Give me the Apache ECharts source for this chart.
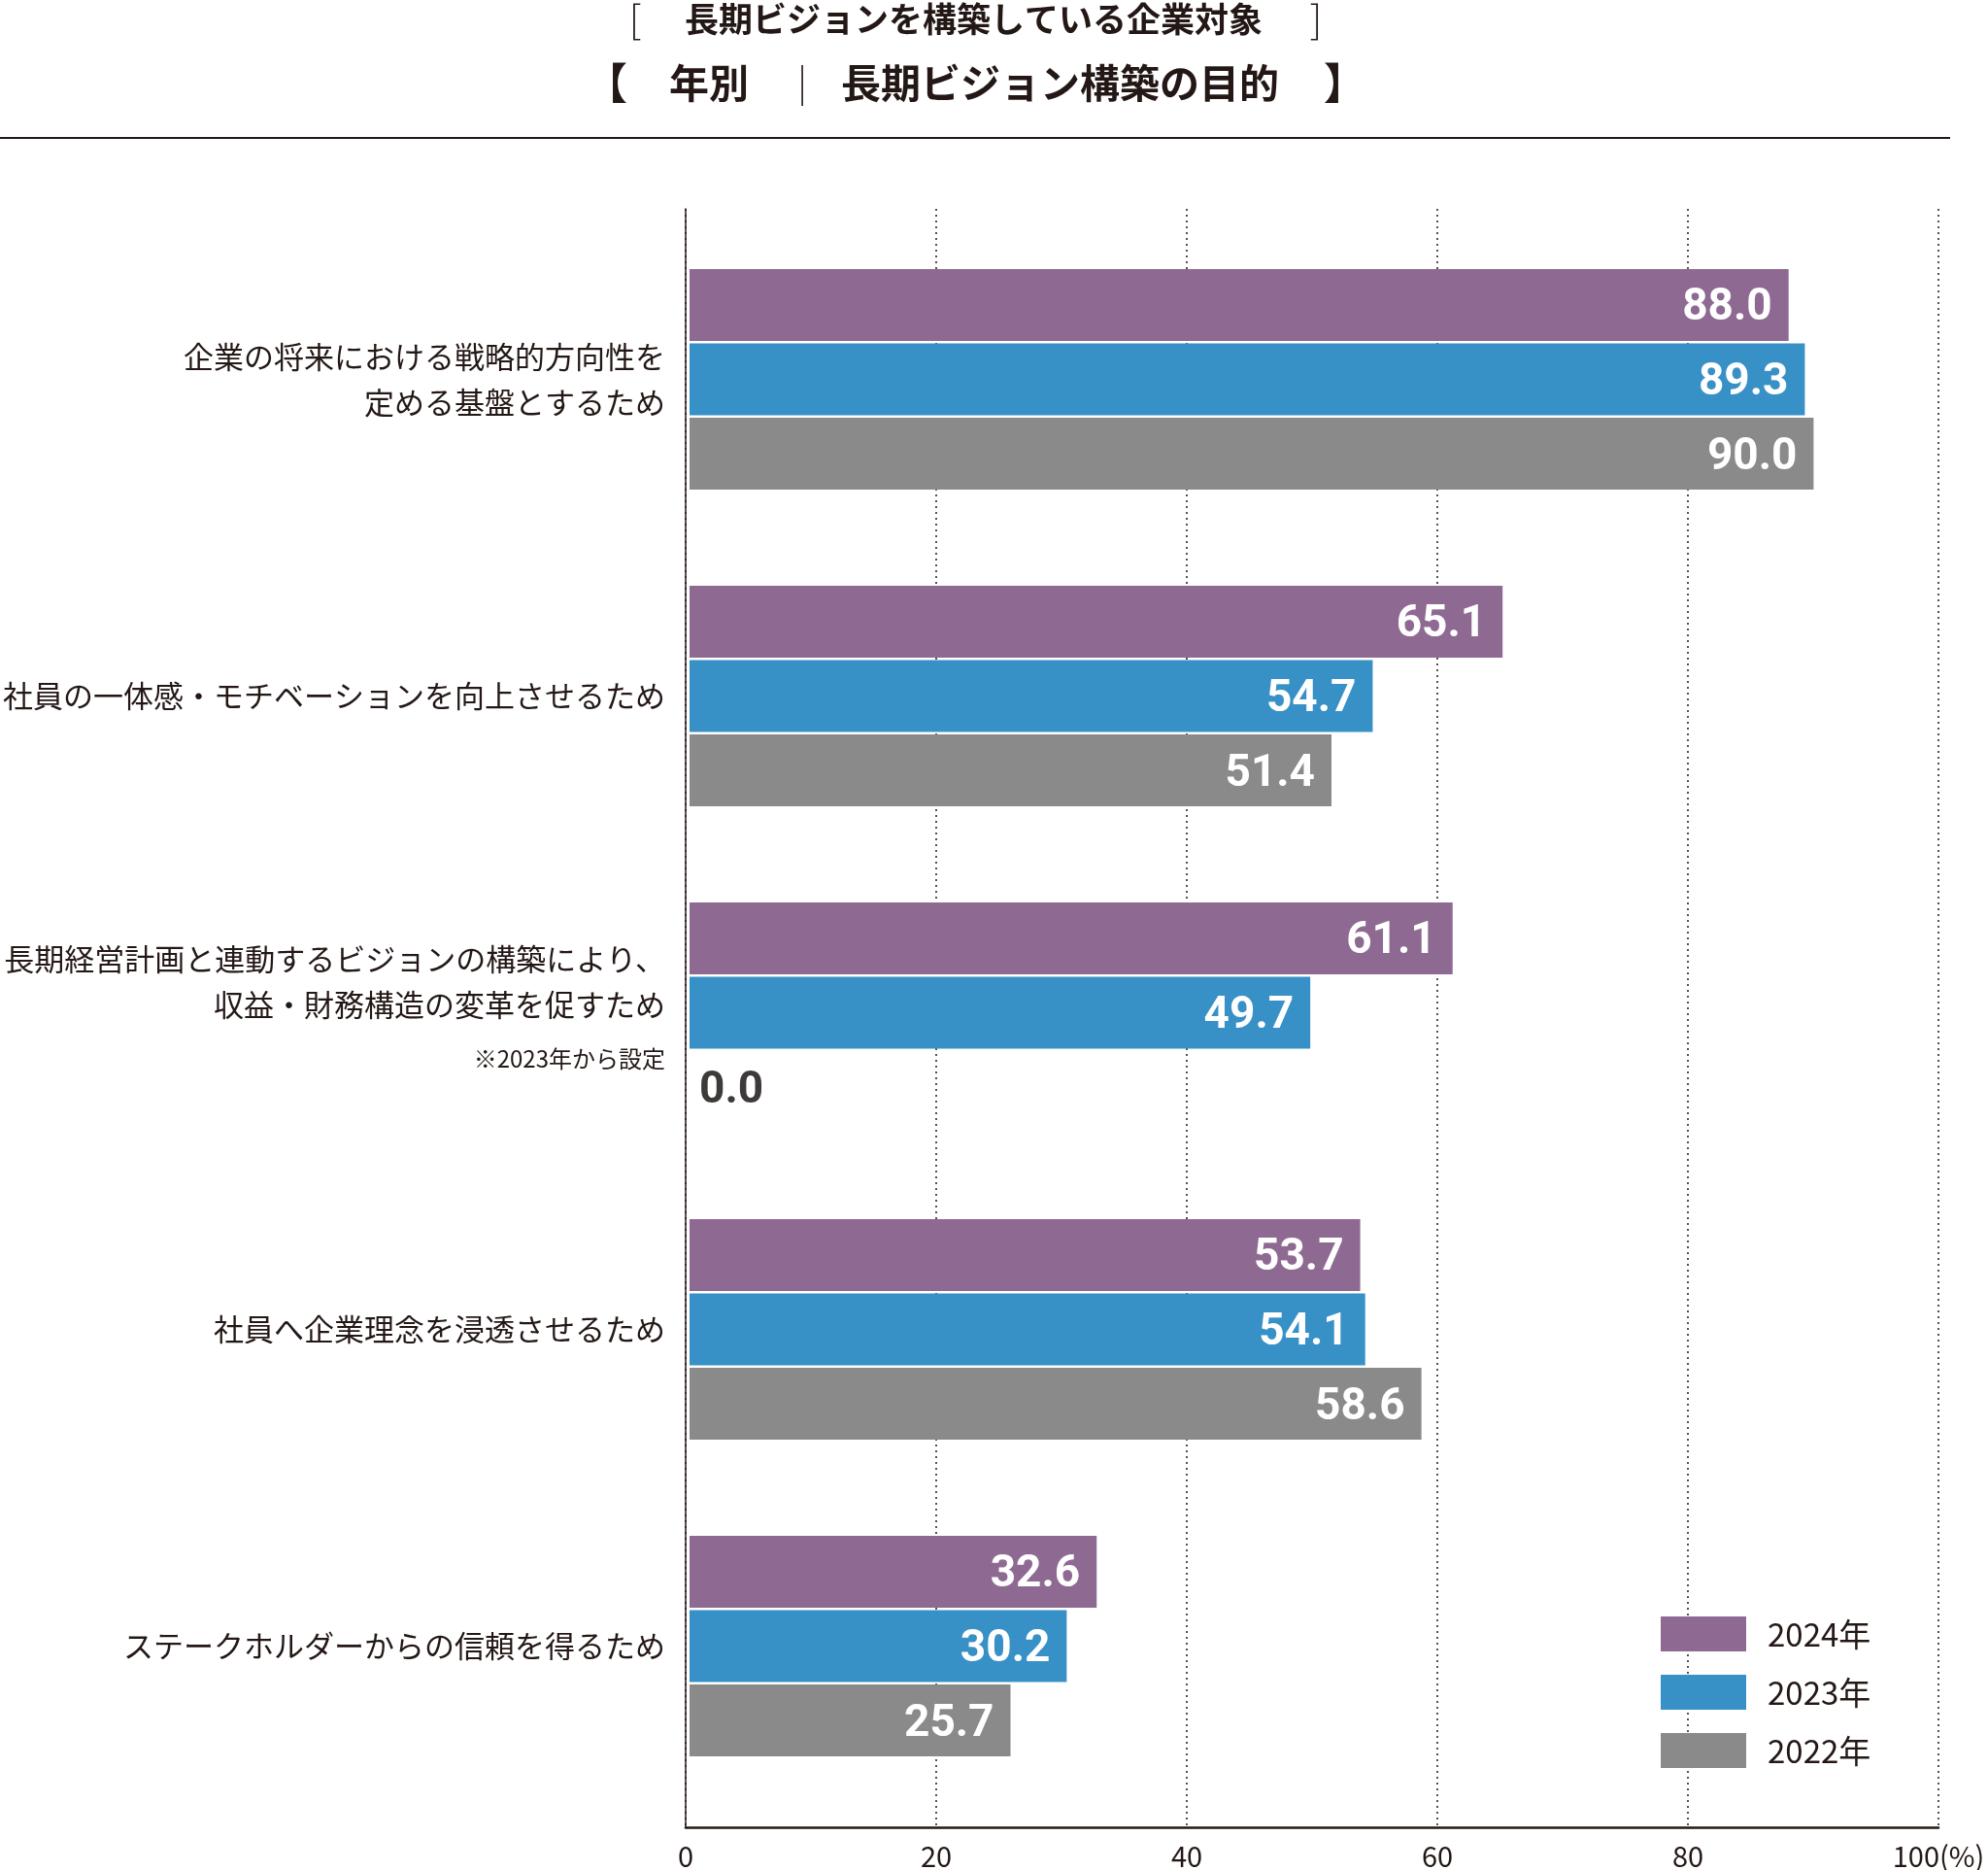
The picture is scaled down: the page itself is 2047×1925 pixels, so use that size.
<!DOCTYPE html>
<html>
<head>
<meta charset="utf-8">
<script src="https://cdn.jsdelivr.net/npm/echarts@6/dist/echarts.min.js"></script>
<style>
html,body{margin:0;padding:0;background:#fff;}
#main{width:2047px;height:1925px;}
</style>
</head>
<body>
<div id="main"></div>
<script>
// ---- data ----
const categories = [
  '企業の将来における戦略的方向性を\n定める基盤とするため',
  '社員の一体感・モチベーションを向上させるため',
  '長期経営計画と連動するビジョンの構築により、\n収益・財務構造の変革を促すため',
  '社員へ企業理念を浸透させるため',
  'ステークホルダーからの信頼を得るため'
];
const categoryNotes = ['', '', '※2023年から設定', '', ''];
const seriesNames = ['2024年', '2023年', '2022年'];
const values2024 = [88.0, 65.1, 61.1, 53.7, 32.6];
const values2023 = [89.3, 54.7, 49.7, 54.1, 30.2];
const values2022 = [90.0, 51.4, 0.0, 58.6, 25.7];
const xTicks = [0, 20, 40, 60, 80, 100];
const titleLine1 = '長期ビジョンを構築している企業対象';
const titleLine2a = '年別';
const titleLine2b = '長期ビジョン構築の目的';

// ---- styles ----
const INK = '#231815';
const colors = ['#8e6a93', '#3891c6', '#8a8a8a'];
const JP = '"Noto Sans CJK JP", "Noto Sans", sans-serif';
const NUM = 'Roboto, "Liberation Sans", sans-serif';

function makeData(vals) {
  return vals.map(v => v === 0
    ? { value: v, label: { position: 'right', distance: 10, color: '#3e3a39' } }
    : v);
}

const allValues = [values2024, values2023, values2022];
const series = seriesNames.map((name, i) => ({
  name: name,
  type: 'bar',
  xAxisIndex: 1,
  yAxisIndex: 1,
  barWidth: 74,
  barGap: '3.4%',
  itemStyle: { color: colors[i] },
  label: {
    show: true,
    position: 'insideRight',
    distance: 17,
    offset: [0, 4],
    color: '#ffffff',
    fontFamily: NUM,
    fontWeight: 'bold',
    fontSize: 46,
    formatter: p => Number(p.value).toFixed(1)
  },
  data: makeData(allValues[i])
}));

const chart = echarts.init(document.getElementById('main'));
chart.setOption({
  animation: false,
  backgroundColor: '#ffffff',
  grid: [
    { left: 706, right: 51, top: 215, bottom: 43 },
    { left: 706, right: 51, top: 227.5, height: 1630 }
  ],
  xAxis: [
    {
      gridIndex: 0, type: 'value', min: xTicks[0], max: xTicks[xTicks.length - 1], interval: 20,
      axisLine: { show: true, onZero: false, lineStyle: { color: INK, width: 2.5 } },
      axisTick: { show: false },
      axisLabel: {
        margin: 15, fontFamily: JP, fontSize: 29, color: INK,
        formatter: v => v === 100 ? '100(%)' : String(v)
      },
      splitLine: { show: true, lineStyle: { color: INK, width: 1.5, type: [2, 4] } }
    },
    { gridIndex: 1, type: 'value', min: 0, max: 100, show: false }
  ],
  yAxis: [
    {
      gridIndex: 0, type: 'value', min: 0, max: 1,
      axisLine: { show: true, onZero: false, lineStyle: { color: INK, width: 1.5 } },
      axisTick: { show: false }, axisLabel: { show: false }, splitLine: { show: false }
    },
    {
      gridIndex: 1, type: 'category', inverse: true, data: categories,
      axisLine: { show: false }, axisTick: { show: false },
      axisLabel: {
        margin: 25,
        color: INK,
        fontFamily: JP,
        formatter: (v, idx) => {
          let s = v.split('\n').map(l => '{a|' + l + '}').join('\n');
          if (categoryNotes[idx]) s += '\n{n|' + categoryNotes[idx] + '}';
          return s;
        },
        rich: {
          a: { fontSize: 31, lineHeight: 47, color: INK, fontFamily: JP },
          n: { fontSize: 24, lineHeight: 63, color: INK, fontFamily: JP }
        }
      }
    }
  ],
  legend: {
    orient: 'vertical',
    left: 1710, top: 1664,
    padding: 0,
    itemWidth: 88, itemHeight: 36, itemGap: 24,
    icon: 'rect',
    data: seriesNames,
    textStyle: { fontSize: 33, color: INK, fontFamily: JP, padding: [0, 0, 0, 17] }
  },
  graphic: [
    { type: 'text', x: 654, y: 20, style: { text: '[', fill: INK, fontSize: 40, fontWeight: 300, fontFamily: JP, align: 'center', verticalAlign: 'middle' } },
    { type: 'text', x: 705, y: 20, style: { text: titleLine1, fill: INK, fontSize: 35, fontWeight: 'bold', fontFamily: JP, align: 'left', verticalAlign: 'middle' } },
    { type: 'text', x: 1355, y: 20, style: { text: ']', fill: INK, fontSize: 40, fontWeight: 300, fontFamily: JP, align: 'center', verticalAlign: 'middle' } },
    { type: 'text', x: 624, y: 85, style: { text: '【', fill: INK, fontSize: 44, fontWeight: 'bold', fontFamily: JP, align: 'center', verticalAlign: 'middle' } },
    { type: 'text', x: 689, y: 85, style: { text: titleLine2a, fill: INK, fontSize: 41, fontWeight: 'bold', fontFamily: JP, align: 'left', verticalAlign: 'middle' } },
    { type: 'text', x: 826, y: 85, style: { text: '|', fill: INK, fontSize: 38, fontWeight: 300, fontFamily: JP, align: 'center', verticalAlign: 'middle' } },
    { type: 'text', x: 866, y: 85, style: { text: titleLine2b, fill: INK, fontSize: 41, fontWeight: 'bold', fontFamily: JP, align: 'left', verticalAlign: 'middle' } },
    { type: 'text', x: 1385, y: 85, style: { text: '】', fill: INK, fontSize: 44, fontWeight: 'bold', fontFamily: JP, align: 'center', verticalAlign: 'middle' } },
    { type: 'line', shape: { x1: 0, y1: 142, x2: 2008, y2: 142 }, style: { stroke: INK, lineWidth: 2 } }
  ],
  series: series
});
</script>
</body>
</html>
